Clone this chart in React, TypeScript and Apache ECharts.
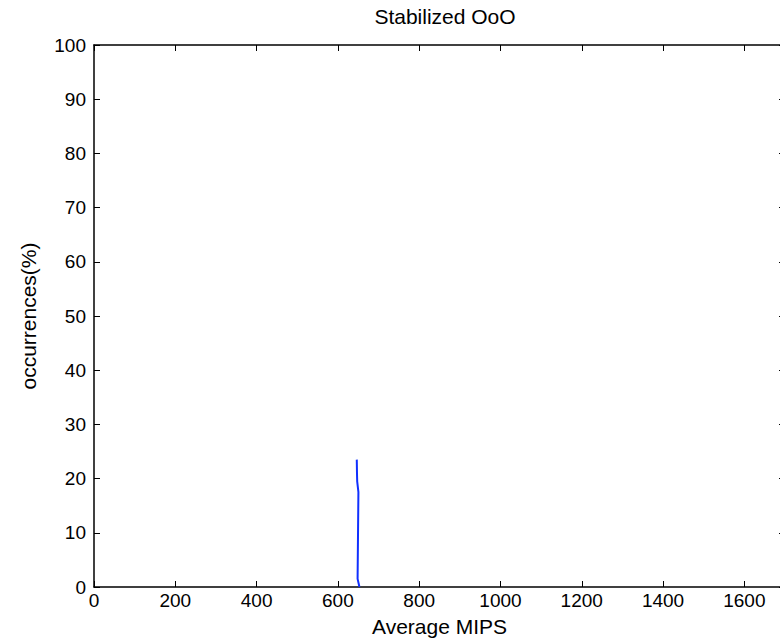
import React, { useEffect, useRef } from "react";
import * as echarts from "echarts";

const titleText = "Stabilized OoO";
const xName = "Average MIPS";
const yName = "occurrences(%)";

// Line samples (MIPS, occurrences %)
const mipsValues = [646.5, 647, 647.5, 650.5, 648.5, 651.5, 653];
const occurrenceValues = [23.5, 21, 19.5, 17.5, 1.5, 0.5, 0];

const xMin = 0;
const xMax = 1700;
const xInterval = 200;
const yMin = 0;
const yMax = 100;
const yInterval = 10;

const font = "'Liberation Sans', Arial, Helvetica, sans-serif";

export default function App() {
  const ref = useRef<HTMLDivElement>(null);

  useEffect(() => {
    if (!ref.current) return;
    const chart = echarts.init(ref.current, null, { renderer: "svg" });
    const axisLine = { show: true, onZero: false, lineStyle: { color: "#000", width: 1.5 } };
    const tick = { show: true, inside: true, length: 6, lineStyle: { color: "#000", width: 1 } };
    chart.setOption({
      animation: false,
      backgroundColor: "#fff",
      title: {
        text: titleText,
        left: 440,
        textAlign: "center",
        top: 1,
        textStyle: { fontFamily: font, fontSize: 21, fontWeight: "normal", color: "#000" },
      },
      grid: {
        left: 94,
        top: 45,
        width: 691,
        height: 542,
        containLabel: false,
        outerBoundsMode: "none",
      },
      xAxis: [
        {
          type: "value",
          min: xMin,
          max: xMax,
          interval: xInterval,
          position: "bottom",
          name: xName,
          nameLocation: "middle",
          nameGap: 29,
          nameTextStyle: { fontFamily: font, fontSize: 21, color: "#000" },
          axisLine,
          axisTick: tick,
          splitLine: { show: false },
          axisLabel: {
            fontFamily: font,
            fontSize: 19,
            color: "#000",
            margin: 4,
            showMaxLabel: false,
            formatter: (v: number) => String(v),
          },
        },
        {
          type: "value",
          min: xMin,
          max: xMax,
          interval: xInterval,
          position: "top",
          axisLine,
          axisTick: tick,
          splitLine: { show: false },
          axisLabel: { show: false },
        },
      ],
      yAxis: [
        {
          type: "value",
          min: yMin,
          max: yMax,
          interval: yInterval,
          position: "left",
          name: yName,
          nameLocation: "middle",
          nameGap: 55,
          nameTextStyle: { fontFamily: font, fontSize: 21, color: "#000" },
          axisLine,
          axisTick: tick,
          splitLine: { show: false },
          axisLabel: {
            fontFamily: font,
            fontSize: 19,
            color: "#000",
            margin: 8,
            formatter: (v: number) => String(v),
          },
        },
        {
          type: "value",
          min: yMin,
          max: yMax,
          interval: yInterval,
          position: "right",
          axisLine,
          axisTick: tick,
          splitLine: { show: false },
          axisLabel: { show: false },
        },
      ],
      series: [
        {
          type: "line",
          data: mipsValues.map((m, i) => [m, occurrenceValues[i]]),
          showSymbol: false,
          symbol: "none",
          lineStyle: { color: "#1030ff", width: 2 },
          xAxisIndex: 0,
          yAxisIndex: 0,
        },
      ],
    });
    return () => chart.dispose();
  }, []);

  return (
    <div
      ref={ref}
      style={{ position: "fixed", left: 0, top: 0, width: 780, height: 641, overflow: "hidden" }}
    />
  );
}
